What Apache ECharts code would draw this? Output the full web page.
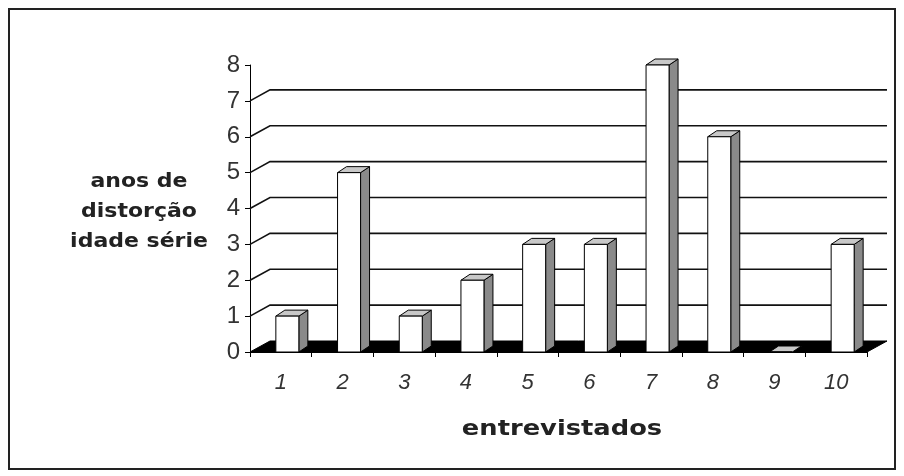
<!DOCTYPE html>
<html><head><meta charset="utf-8">
<script src="https://cdn.jsdelivr.net/npm/echarts@6/dist/echarts.min.js"></script>
<style>html,body{margin:0;padding:0;background:#fff}#c{width:904px;height:476px}</style>
</head><body><div id="c"></div>
<script>
const categories = ['1','2','3','4','5','6','7','8','9','10'];
const values = [1,5,1,2,3,3,8,6,0,3];
const gridValues = [1,2,3,4,5,6,7];
const yTicks = [0,1,2,3,4,5,6,7,8];
const yTitleLines = ['anos de', 'distorção', 'idade série'];
const xTitle = 'entrevistados';

const DX = 20, DY = -11;       // back wall depth offset
const BDX = 9, BDY = -6;       // bar depth offset

const titleFont = 'bold 20px "DejaVu Sans"';
const graphics = [
  {type: 'rect', shape: {x: 9, y: 9, width: 886, height: 460}, style: {fill: 'none', stroke: '#222', lineWidth: 2}, silent: true},
  {type: 'text', x: 562, y: 429, scaleX: 1.17, style: {text: xTitle, font: 'bold 22px "DejaVu Sans"', fill: '#222', align: 'center', verticalAlign: 'middle'}}
];
const centers = [182, 212, 242];
yTitleLines.forEach((t, k) => graphics.push({type: 'text', x: 139, y: centers[k], scaleX: 1.1,
  style: {text: t, font: titleFont, fill: '#222', align: 'center', verticalAlign: 'middle'}}));

const chart = echarts.init(document.getElementById('c'));
chart.setOption({
  backgroundColor: '#fff',
  animation: false,
  grid: {left: 250, right: 37, top: 65, bottom: 124},
  graphic: graphics,
  xAxis: {
    type: 'category', data: categories, boundaryGap: true,
    axisLine: {show: true, lineStyle: {color: '#000', width: 1}},
    axisTick: {show: true, length: 5, lineStyle: {color: '#000'}},
    axisLabel: {fontSize: 22, fontStyle: 'italic', fontFamily: 'Liberation Sans', color: '#333', margin: 20}
  },
  yAxis: {
    type: 'value', min: 0, max: 8, interval: 1,
    axisLine: {show: true, lineStyle: {color: '#000', width: 1}},
    axisTick: {show: true, length: 5, lineStyle: {color: '#000'}},
    axisLabel: {fontSize: 24, fontFamily: 'Liberation Sans', color: '#333', margin: 10,
      formatter: v => yTicks.includes(v) ? String(v) : ''},
    splitLine: {show: false}
  },
  series: [
    {
      type: 'custom', z: 1, data: [0],
      renderItem: function (params, api) {
        const cs = params.coordSys;
        const y0 = api.coord([0, 0])[1];
        return {type: 'polygon', shape: {points: [[cs.x, y0], [cs.x + DX, y0 + DY], [cs.x + cs.width + DX, y0 + DY], [cs.x + cs.width, y0]]},
          style: {fill: '#000', stroke: '#000', lineWidth: 1}};
      }
    },
    {
      type: 'custom', z: 2, data: gridValues,
      renderItem: function (params, api) {
        const cs = params.coordSys;
        const y = api.coord([0, api.value(0)])[1];
        return {type: 'polyline', shape: {points: [[cs.x, y], [cs.x + DX, y + DY], [cs.x + cs.width + DX, y + DY]]},
          style: {fill: 'none', stroke: '#111', lineWidth: 1.6}};
      },
      encode: {y: 0}
    },
    {
      type: 'custom', z: 3,
      data: values.map((v, i) => [i, v]),
      encode: {x: 0, y: 1},
      renderItem: function (params, api) {
        const i = api.value(0), v = api.value(1);
        const top = api.coord([i, v]);
        const base = api.coord([i, 0]);
        const L = top[0] - 5, R = top[0] + 18;
        const T = top[1], B = base[1];
        const st = {stroke: '#000', lineWidth: 1};
        return {type: 'group', children: [
          {type: 'polygon', shape: {points: [[R, B], [R + BDX, B + BDY], [R + BDX, T + BDY], [R, T]]}, style: Object.assign({fill: '#8a8a8a'}, st)},
          {type: 'polygon', shape: {points: [[L, T], [L + BDX, T + BDY], [R + BDX, T + BDY], [R, T]]}, style: Object.assign({fill: '#c8c8c8'}, st)},
          {type: 'rect', shape: {x: L, y: T, width: R - L, height: B - T}, style: Object.assign({fill: '#fff'}, st)}
        ]};
      }
    }
  ]
});
</script></body></html>
